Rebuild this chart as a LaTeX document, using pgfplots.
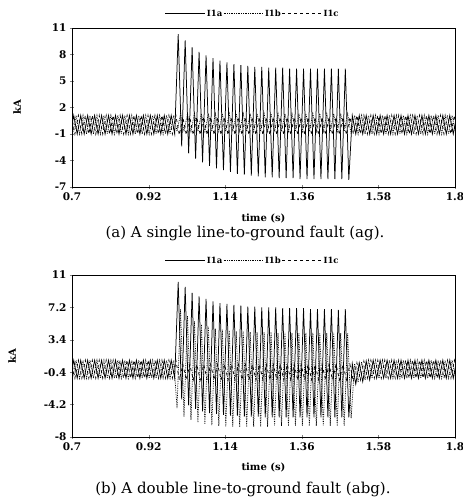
\documentclass[border=0pt]{standalone}
\usepackage{fontspec}
\setmainfont{DejaVu Serif}
\usepackage{pgfplots}
\usepackage{pgfplotstable}
\pgfplotsset{compat=1.18}

% peaks/troughs of the three phase currents, kA (a: single line-to-ground)
\pgfplotstableread{
ta a tb b tc c
0.695 -1.0 0.6917 1.1 0.6983 1.1
0.705 1.1 0.7017 -1.0 0.7083 -1.0
0.715 -1.0 0.7117 1.1 0.7183 1.1
0.725 1.1 0.7217 -1.0 0.7283 -1.0
0.735 -1.0 0.7317 1.1 0.7383 1.1
0.745 1.1 0.7417 -1.0 0.7483 -1.0
0.755 -1.0 0.7517 1.1 0.7583 1.1
0.765 1.1 0.7617 -1.0 0.7683 -1.0
0.775 -1.0 0.7717 1.1 0.7783 1.1
0.785 1.1 0.7817 -1.0 0.7883 -1.0
0.795 -1.0 0.7917 1.1 0.7983 1.1
0.805 1.1 0.8017 -1.0 0.8083 -1.0
0.815 -1.0 0.8117 1.1 0.8183 1.1
0.825 1.1 0.8217 -1.0 0.8283 -1.0
0.835 -1.0 0.8317 1.1 0.8383 1.1
0.845 1.1 0.8417 -1.0 0.8483 -1.0
0.855 -1.0 0.8517 1.1 0.8583 1.1
0.865 1.1 0.8617 -1.0 0.8683 -1.0
0.875 -1.0 0.8717 1.1 0.8783 1.1
0.885 1.1 0.8817 -1.0 0.8883 -1.0
0.895 -1.0 0.8917 1.1 0.8983 1.1
0.905 1.1 0.9017 -1.0 0.9083 -1.0
0.915 -1.0 0.9117 1.1 0.9183 1.1
0.925 1.1 0.9217 -1.0 0.9283 -1.0
0.935 -1.0 0.9317 1.1 0.9383 1.1
0.945 1.1 0.9417 -1.0 0.9483 -1.0
0.955 -1.0 0.9517 1.1 0.9583 1.1
0.965 1.1 0.9617 -1.0 0.9683 -1.0
0.975 -1.0 0.9717 1.1 0.9783 1.1
0.985 1.1 0.9817 -1.0 0.9883 -1.0
0.995 -1.0 0.9917 1.1 0.9983 1.1
1.005 10.3 1.0017 -0.7 1.0083 -1.1
1.015 -2.4 1.0117 1.3 1.0183 0.9
1.025 9.6 1.0217 -0.7 1.0283 -1.1
1.035 -3.2 1.0317 1.3 1.0383 0.9
1.045 8.8 1.0417 -0.7 1.0483 -1.1
1.055 -3.8 1.0517 1.3 1.0583 0.9
1.065 8.3 1.0617 -0.7 1.0683 -1.1
1.075 -4.2 1.0717 1.3 1.0783 0.9
1.085 7.9 1.0817 -0.7 1.0883 -1.1
1.095 -4.6 1.0917 1.3 1.0983 0.9
1.105 7.6 1.1017 -0.7 1.1083 -1.1
1.115 -4.9 1.1117 1.3 1.1183 0.9
1.125 7.3 1.1217 -0.7 1.1283 -1.1
1.135 -5.1 1.1317 1.3 1.1383 0.9
1.145 7.1 1.1417 -0.7 1.1483 -1.1
1.155 -5.3 1.1517 1.3 1.1583 0.9
1.165 6.9 1.1617 -0.7 1.1683 -1.1
1.175 -5.5 1.1717 1.3 1.1783 0.9
1.185 6.8 1.1817 -0.7 1.1883 -1.1
1.195 -5.6 1.1917 1.3 1.1983 0.9
1.205 6.7 1.2017 -0.7 1.2083 -1.1
1.215 -5.7 1.2117 1.3 1.2183 0.9
1.225 6.6 1.2217 -0.7 1.2283 -1.1
1.235 -5.8 1.2317 1.3 1.2383 0.9
1.245 6.6 1.2417 -0.7 1.2483 -1.1
1.255 -5.9 1.2517 1.3 1.2583 0.9
1.265 6.5 1.2617 -0.7 1.2683 -1.1
1.275 -5.9 1.2717 1.3 1.2783 0.9
1.285 6.5 1.2817 -0.7 1.2883 -1.1
1.295 -6.0 1.2917 1.3 1.2983 0.9
1.305 6.5 1.3017 -0.7 1.3083 -1.1
1.315 -6.0 1.3117 1.3 1.3183 0.9
1.325 6.4 1.3217 -0.7 1.3283 -1.1
1.335 -6.0 1.3317 1.3 1.3383 0.9
1.345 6.4 1.3417 -0.7 1.3483 -1.1
1.355 -6.1 1.3517 1.3 1.3583 0.9
1.365 6.4 1.3617 -0.7 1.3683 -1.1
1.375 -6.1 1.3717 1.3 1.3783 0.9
1.385 6.4 1.3817 -0.7 1.3883 -1.1
1.395 -6.1 1.3917 1.3 1.3983 0.9
1.405 6.4 1.4017 -0.7 1.4083 -1.1
1.415 -6.1 1.4117 1.3 1.4183 0.9
1.425 6.4 1.4217 -0.7 1.4283 -1.1
1.435 -6.1 1.4317 1.3 1.4383 0.9
1.445 6.4 1.4417 -0.7 1.4483 -1.1
1.455 -6.1 1.4517 1.3 1.4583 0.9
1.465 6.4 1.4617 -0.7 1.4683 -1.1
1.475 -6.1 1.4717 1.3 1.4783 0.9
1.485 6.4 1.4817 -0.7 1.4883 -1.1
1.495 -6.2 1.4917 1.3 1.4983 0.9
1.505 1.1 1.5017 -1.0 1.5083 -1.0
1.515 -1.0 1.5117 1.1 1.5183 1.1
1.525 1.1 1.5217 -1.0 1.5283 -1.0
1.535 -1.0 1.5317 1.1 1.5383 1.1
1.545 1.1 1.5417 -1.0 1.5483 -1.0
1.555 -1.0 1.5517 1.1 1.5583 1.1
1.565 1.1 1.5617 -1.0 1.5683 -1.0
1.575 -1.0 1.5717 1.1 1.5783 1.1
1.585 1.1 1.5817 -1.0 1.5883 -1.0
1.595 -1.0 1.5917 1.1 1.5983 1.1
1.605 1.1 1.6017 -1.0 1.6083 -1.0
1.615 -1.0 1.6117 1.1 1.6183 1.1
1.625 1.1 1.6217 -1.0 1.6283 -1.0
1.635 -1.0 1.6317 1.1 1.6383 1.1
1.645 1.1 1.6417 -1.0 1.6483 -1.0
1.655 -1.0 1.6517 1.1 1.6583 1.1
1.665 1.1 1.6617 -1.0 1.6683 -1.0
1.675 -1.0 1.6717 1.1 1.6783 1.1
1.685 1.1 1.6817 -1.0 1.6883 -1.0
1.695 -1.0 1.6917 1.1 1.6983 1.1
1.705 1.1 1.7017 -1.0 1.7083 -1.0
1.715 -1.0 1.7117 1.1 1.7183 1.1
1.725 1.1 1.7217 -1.0 1.7283 -1.0
1.735 -1.0 1.7317 1.1 1.7383 1.1
1.745 1.1 1.7417 -1.0 1.7483 -1.0
1.755 -1.0 1.7517 1.1 1.7583 1.1
1.765 1.1 1.7617 -1.0 1.7683 -1.0
1.775 -1.0 1.7717 1.1 1.7783 1.1
1.785 1.1 1.7817 -1.0 1.7883 -1.0
1.795 -1.0 1.7917 1.1 1.7983 1.1
1.805 1.1 1.8017 -1.0 1.8083 -1.0
}\faultag

% (b): double line-to-ground
\pgfplotstableread{
ta a tb b tc c
0.695 -1.1 0.6917 1.0 0.6983 1.0
0.705 1.0 0.7017 -1.1 0.7083 -1.1
0.715 -1.1 0.7117 1.0 0.7183 1.0
0.725 1.0 0.7217 -1.1 0.7283 -1.1
0.735 -1.1 0.7317 1.0 0.7383 1.0
0.745 1.0 0.7417 -1.1 0.7483 -1.1
0.755 -1.1 0.7517 1.0 0.7583 1.0
0.765 1.0 0.7617 -1.1 0.7683 -1.1
0.775 -1.1 0.7717 1.0 0.7783 1.0
0.785 1.0 0.7817 -1.1 0.7883 -1.1
0.795 -1.1 0.7917 1.0 0.7983 1.0
0.805 1.0 0.8017 -1.1 0.8083 -1.1
0.815 -1.1 0.8117 1.0 0.8183 1.0
0.825 1.0 0.8217 -1.1 0.8283 -1.1
0.835 -1.1 0.8317 1.0 0.8383 1.0
0.845 1.0 0.8417 -1.1 0.8483 -1.1
0.855 -1.1 0.8517 1.0 0.8583 1.0
0.865 1.0 0.8617 -1.1 0.8683 -1.1
0.875 -1.1 0.8717 1.0 0.8783 1.0
0.885 1.0 0.8817 -1.1 0.8883 -1.1
0.895 -1.1 0.8917 1.0 0.8983 1.0
0.905 1.0 0.9017 -1.1 0.9083 -1.1
0.915 -1.1 0.9117 1.0 0.9183 1.0
0.925 1.0 0.9217 -1.1 0.9283 -1.1
0.935 -1.1 0.9317 1.0 0.9383 1.0
0.945 1.0 0.9417 -1.1 0.9483 -1.1
0.955 -1.1 0.9517 1.0 0.9583 1.0
0.965 1.0 0.9617 -1.1 0.9683 -1.1
0.975 -1.1 0.9717 1.0 0.9783 1.0
0.985 1.0 0.9817 -1.1 0.9883 -1.1
0.995 -1.1 0.9917 1.0 0.9983 1.0
1.005 10.2 1.0017 -4.6 1.0083 -1.3
1.015 -3.6 1.0117 7.0 1.0183 0.5
1.025 9.6 1.0217 -5.6 1.0283 -1.3
1.035 -4.3 1.0317 6.2 1.0383 0.5
1.045 8.9 1.0417 -6.0 1.0483 -1.3
1.055 -4.7 1.0517 5.6 1.0583 0.5
1.065 8.5 1.0617 -6.3 1.0683 -1.3
1.075 -5.0 1.0717 5.2 1.0783 0.5
1.085 8.2 1.0817 -6.5 1.0883 -1.3
1.095 -5.2 1.0917 4.9 1.0983 0.5
1.105 7.9 1.1017 -6.6 1.1083 -1.3
1.115 -5.3 1.1117 4.7 1.1183 0.5
1.125 7.7 1.1217 -6.7 1.1283 -1.3
1.135 -5.4 1.1317 4.6 1.1383 0.5
1.145 7.6 1.1417 -6.8 1.1483 -1.3
1.155 -5.5 1.1517 4.5 1.1583 0.5
1.165 7.5 1.1617 -6.8 1.1683 -1.3
1.175 -5.5 1.1717 4.4 1.1783 0.5
1.185 7.4 1.1817 -6.8 1.1883 -1.3
1.195 -5.6 1.1917 4.4 1.1983 0.5
1.205 7.3 1.2017 -6.8 1.2083 -1.3
1.215 -5.6 1.2117 4.3 1.2183 0.5
1.225 7.3 1.2217 -6.8 1.2283 -1.3
1.235 -5.6 1.2317 4.3 1.2383 0.5
1.245 7.2 1.2417 -6.8 1.2483 -1.3
1.255 -5.7 1.2517 4.3 1.2583 0.5
1.265 7.2 1.2617 -6.8 1.2683 -1.3
1.275 -5.7 1.2717 4.3 1.2783 0.5
1.285 7.2 1.2817 -6.7 1.2883 -1.3
1.295 -5.7 1.2917 4.2 1.2983 0.5
1.305 7.1 1.3017 -6.7 1.3083 -1.3
1.315 -5.7 1.3117 4.2 1.3183 0.5
1.325 7.1 1.3217 -6.7 1.3283 -1.3
1.335 -5.7 1.3317 4.2 1.3383 0.5
1.345 7.1 1.3417 -6.7 1.3483 -1.3
1.355 -5.7 1.3517 4.2 1.3583 0.5
1.365 7.1 1.3617 -6.7 1.3683 -1.3
1.375 -5.7 1.3717 4.2 1.3783 0.5
1.385 7.0 1.3817 -6.7 1.3883 -1.3
1.395 -5.7 1.3917 4.2 1.3983 0.5
1.405 7.0 1.4017 -6.7 1.4083 -1.3
1.415 -5.7 1.4117 4.2 1.4183 0.5
1.425 7.0 1.4217 -6.7 1.4283 -1.3
1.435 -5.7 1.4317 4.2 1.4383 0.5
1.445 7.0 1.4417 -6.7 1.4483 -1.3
1.455 -5.7 1.4517 4.2 1.4583 0.5
1.465 6.9 1.4617 -6.7 1.4683 -1.3
1.475 -5.7 1.4717 4.2 1.4783 0.5
1.485 7.0 1.4817 -6.7 1.4883 -1.3
1.495 -5.7 1.4917 4.2 1.4983 0.5
1.505 0.6 1.5017 -5.8 1.5083 -1.5
1.515 -1.8 1.5117 0.6 1.5183 0.7
1.525 0.7 1.5217 -1.6 1.5283 -1.3
1.535 -1.5 1.5317 0.8 1.5383 0.9
1.545 0.9 1.5417 -1.3 1.5483 -1.1
1.555 -1.3 1.5517 1.0 1.5583 1.0
1.565 1.0 1.5617 -1.1 1.5683 -1.1
1.575 -1.1 1.5717 1.0 1.5783 1.0
1.585 1.0 1.5817 -1.1 1.5883 -1.1
1.595 -1.1 1.5917 1.0 1.5983 1.0
1.605 1.0 1.6017 -1.1 1.6083 -1.1
1.615 -1.1 1.6117 1.0 1.6183 1.0
1.625 1.0 1.6217 -1.1 1.6283 -1.1
1.635 -1.1 1.6317 1.0 1.6383 1.0
1.645 1.0 1.6417 -1.1 1.6483 -1.1
1.655 -1.1 1.6517 1.0 1.6583 1.0
1.665 1.0 1.6617 -1.1 1.6683 -1.1
1.675 -1.1 1.6717 1.0 1.6783 1.0
1.685 1.0 1.6817 -1.1 1.6883 -1.1
1.695 -1.1 1.6917 1.0 1.6983 1.0
1.705 1.0 1.7017 -1.1 1.7083 -1.1
1.715 -1.1 1.7117 1.0 1.7183 1.0
1.725 1.0 1.7217 -1.1 1.7283 -1.1
1.735 -1.1 1.7317 1.0 1.7383 1.0
1.745 1.0 1.7417 -1.1 1.7483 -1.1
1.755 -1.1 1.7517 1.0 1.7583 1.0
1.765 1.0 1.7617 -1.1 1.7683 -1.1
1.775 -1.1 1.7717 1.0 1.7783 1.0
1.785 1.0 1.7817 -1.1 1.7883 -1.1
1.795 -1.1 1.7917 1.0 1.7983 1.0
1.805 1.0 1.8017 -1.1 1.8083 -1.1
}\faultabg

\pgfplotsset{
  wave/.style={
    scale only axis, width=383pt,
    xmin=0.7, xmax=1.8,
    xtick={0.7,0.92,1.14,1.36,1.58,1.8},
    xticklabels={0.7,0.92,1.14,1.36,1.58,1.8},
    tick align=center, xtick pos=bottom, ytick pos=left,
    major tick length=4pt,
    ticklabel style={font=\bfseries\fontsize{10.5}{12}\selectfont},
    /pgf/number format/assume math mode=true,
    axis line style={line width=0.9pt},
    xlabel={time (s)},
    ylabel={kA},
    label style={font=\bfseries\fontsize{10}{12}\selectfont},
    every axis plot/.append style={black, line width=0.75pt},
    legend columns=3,
    legend style={draw=none, fill=none, at={(axis description cs:0.471,1)},
      anchor=south, yshift=9pt, font=\bfseries\fontsize{8.5}{9}\selectfont,
      inner sep=0pt, nodes={inner sep=1pt},
      /tikz/every even column/.append style={column sep=0pt}},
    legend image code/.code={\draw[#1] (0pt,0pt) -- (40pt,0pt);},
  }
}

\begin{document}
\begin{tikzpicture}
\useasboundingbox (0,0) rectangle (463pt,498pt);
\begin{axis}[wave, name=axa, at={(72pt,311pt)}, anchor=south west, height=159pt,
  ymin=-7, ymax=11, ytick={-7,-4,-1,2,5,8,11},
  yticklabels={-7,-4,-1,2,5,8,11},
  xlabel style={at={(axis description cs:0.5,-0.195)}, anchor=center},
  ylabel style={at={(axis description cs:-0.1436,0.5)}, anchor=center}]
\addplot[solid] table[x=ta, y=a] {\faultag};
\addplot[densely dotted] table[x=tb, y=b] {\faultag};
\addplot[dashed] table[x=tc, y=c] {\faultag};
\legend{I1a, I1b, I1c}
\end{axis}
\begin{axis}[wave, name=axb, at={(72pt,61pt)}, anchor=south west, height=162pt,
  ymin=-8, ymax=11, ytick={-8,-4.2,-0.4,3.4,7.2,11},
  yticklabels={-8,-4.2,-0.4,3.4,7.2,11},
  xlabel style={at={(axis description cs:0.5,-0.191)}, anchor=center},
  ylabel style={at={(axis description cs:-0.1567,0.5)}, anchor=center}]
\addplot[solid] table[x=ta, y=a] {\faultabg};
\addplot[densely dotted] table[x=tb, y=b] {\faultabg};
\addplot[dashed] table[x=tc, y=c] {\faultabg};
\legend{I1a, I1b, I1c}
\end{axis}
\node[font=\fontsize{15}{17}\selectfont] at (245pt,265pt)
  {(a) A single line-to-ground fault (ag).};
\node[font=\fontsize{15}{17}\selectfont] at (243pt,9pt)
  {(b) A double line-to-ground fault (abg).};
\end{tikzpicture}
\end{document}
